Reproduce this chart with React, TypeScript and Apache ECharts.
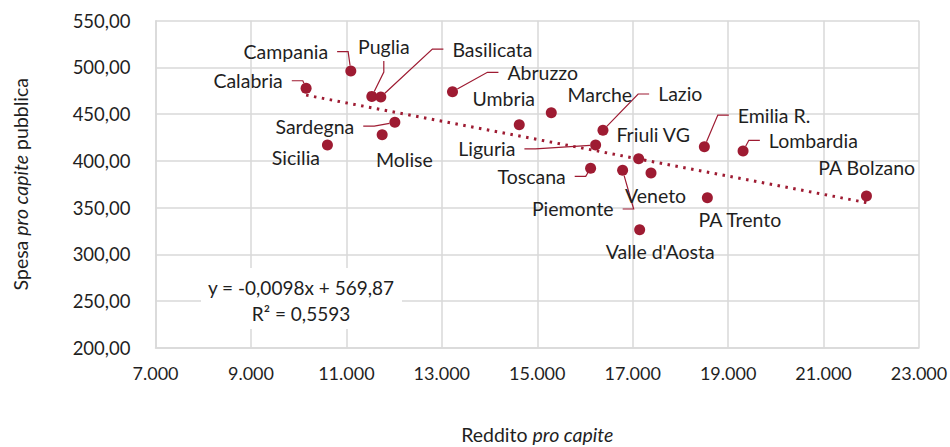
import React, { useEffect, useRef } from "react";
import * as echarts from "echarts";

// ---- Data ----
const regions = [
  "Calabria", "Campania", "Puglia", "Basilicata", "Abruzzo", "Sardegna", "Sicilia", "Molise",
  "Umbria", "Marche", "Lazio", "Liguria", "Friuli VG", "Toscana", "Piemonte", "Veneto",
  "Emilia R.", "Lombardia", "PA Trento", "PA Bolzano", "Valle d'Aosta",
];
const reddito = [
  10156, 11093, 11533, 11722, 13224, 12016, 10603, 11750,
  14623, 15294, 16377, 16223, 17125, 16118, 16789, 17384,
  18502, 19313, 18565, 21899, 17146,
];
const spesa = [
  477.6, 496.2, 469.0, 468.3, 474.0, 441.2, 417.0, 428.0,
  438.7, 451.5, 432.7, 417.0, 402.3, 392.0, 389.9, 387.0,
  415.1, 410.5, 360.5, 362.4, 326.3,
];
const trendSlope = -0.0098;
const trendIntercept = 569.87;
const rSquared = 0.5593;
const xTicks = { min: 7000, max: 23000, interval: 2000 };
const yTicks = { min: 200, max: 550, interval: 50 };

// ---- Label placement (offset from point, px) and leader-line flags ----
const labelOffsets: Record<string, [number, number, boolean]> = {
  "Calabria": [-58, -7.6, true],
  "Campania": [-65, -19.3, true],
  "Puglia": [12, -50.3, true],
  "Basilicata": [111.6, -48, true],
  "Abruzzo": [90.2, -19.4, true],
  "Sardegna": [-80, 3.7, true],
  "Sicilia": [-31.5, 12.3, false],
  "Molise": [22.2, 24.6, false],
  "Umbria": [-15.5, -25.7, false],
  "Marche": [48.5, -18.7, false],
  "Lazio": [77.3, -36.3, true],
  "Liguria": [-108.8, 4, true],
  "Friuli VG": [14.5, -23.7, false],
  "Toscana": [-59, 8, true],
  "Piemonte": [-49.8, 38.7, true],
  "Veneto": [4.6, 22.7, false],
  "Emilia R.": [69.7, -31.7, true],
  "Lombardia": [70.3, -10.7, true],
  "PA Trento": [32.5, 21.3, false],
  "PA Bolzano": [0.2, -28.3, false],
  "Valle d'Aosta": [20.5, 22, false],
};

const RED = "#9E1B32";
const TEXT = "#1f1f1f";
const FONT = "Lato";

const fmtX = (v: number) => String(Math.round(v)).replace(/\B(?=(\d{3})+(?!\d))/g, ".");
const fmtY = (v: number) => v.toFixed(2).replace(".", ",");
const fmtDec = (v: number, d: number) => v.toFixed(d).replace(".", ",");

export default function App() {
  const ref = useRef<HTMLDivElement>(null);
  useEffect(() => {
    if (!ref.current) return;
    const chart = echarts.init(ref.current, undefined, { renderer: "svg" });
    const xMin = Math.min(...reddito);
    const xMax = Math.max(...reddito);
    const trend = [
      [xMin, trendSlope * xMin + trendIntercept],
      [xMax, trendSlope * xMax + trendIntercept],
    ];
    const points = regions.map((name, i) => ({
      name,
      value: [reddito[i], spesa[i]],
      labelLine: { show: labelOffsets[name][2] },
    }));
    const eqText = `y = ${fmtDec(trendSlope, 4)}x + ${fmtDec(trendIntercept, 2)}`;
    const r2Text = `R² = ${fmtDec(rSquared, 4)}`;

    chart.setOption({
      animation: false,
      textStyle: { fontFamily: FONT },
      grid: { left: 155.5, right: 31, top: 20.7, bottom: 99.3, containLabel: false, outerBoundsMode: "none" },
      xAxis: {
        type: "value",
        min: xTicks.min,
        max: xTicks.max,
        interval: xTicks.interval,
        name: "Reddito {i|pro capite}",
        nameLocation: "middle",
        nameGap: 77,
        nameTextStyle: {
          fontFamily: FONT, fontSize: 19.5, color: TEXT,
          rich: { i: { fontStyle: "italic", fontFamily: FONT, fontSize: 19.5, color: TEXT } },
        },
        axisLine: { show: true, lineStyle: { color: "#d9d9d9", width: 1.5 } },
        axisTick: { show: false },
        splitLine: { show: true, lineStyle: { color: "#d9d9d9", width: 1.5 } },
        axisLabel: { formatter: fmtX, fontFamily: FONT, fontSize: 18, color: TEXT, margin: 16 },
      },
      yAxis: {
        type: "value",
        min: yTicks.min,
        max: yTicks.max,
        interval: yTicks.interval,
        name: "Spesa {i|pro capite} pubblica",
        nameLocation: "middle",
        nameGap: 125,
        nameRotate: 90,
        nameTextStyle: {
          fontFamily: FONT, fontSize: 19.5, color: TEXT,
          rich: { i: { fontStyle: "italic", fontFamily: FONT, fontSize: 19.5, color: TEXT } },
        },
        axisLine: { show: true, lineStyle: { color: "#d9d9d9", width: 1.5 } },
        axisTick: { show: false },
        splitLine: { show: true, lineStyle: { color: "#d9d9d9", width: 1.5 } },
        axisLabel: { formatter: fmtY, fontFamily: FONT, fontSize: 18.5, color: TEXT, margin: 25 },
      },
      series: [
        {
          type: "line",
          data: trend,
          symbol: "none",
          silent: true,
          z: 3,
          lineStyle: { color: RED, width: 3, type: [2.5, 5.5], cap: "butt" },
        },
        {
          type: "scatter",
          data: points,
          symbolSize: 11,
          z: 4,
          itemStyle: { color: RED, opacity: 1 },
          label: {
            show: true,
            position: "inside",
            formatter: "{b}",
            fontFamily: FONT,
            fontSize: 19.5,
            color: TEXT,
            padding: [5, 9],
            backgroundColor: "rgba(255,255,255,0)",
          },
          labelLine: { show: false, length2: 11, lineStyle: { color: RED, width: 1.2 } },
          labelLayout: (params: any) => {
            const o = labelOffsets[regions[params.dataIndex]];
            return { dx: o[0], dy: o[1] };
          },
        },
      ],
      graphic: [
        { type: "rect", z: 100, shape: { x: 201, y: 268, width: 201, height: 61 }, style: { fill: "#fff" } },
        {
          type: "text", z: 101, x: 301, y: 287,
          style: { text: eqText, fill: TEXT, font: `19px ${FONT}`, align: "center", verticalAlign: "middle" },
        },
        {
          type: "text", z: 101, x: 301, y: 313,
          style: { text: r2Text, fill: TEXT, font: `19px ${FONT}`, align: "center", verticalAlign: "middle" },
        },
      ],
    });
    return () => chart.dispose();
  }, []);
  return <div ref={ref} style={{ width: 950, height: 447, position: "absolute", left: 0, top: 0 }} />;
}
